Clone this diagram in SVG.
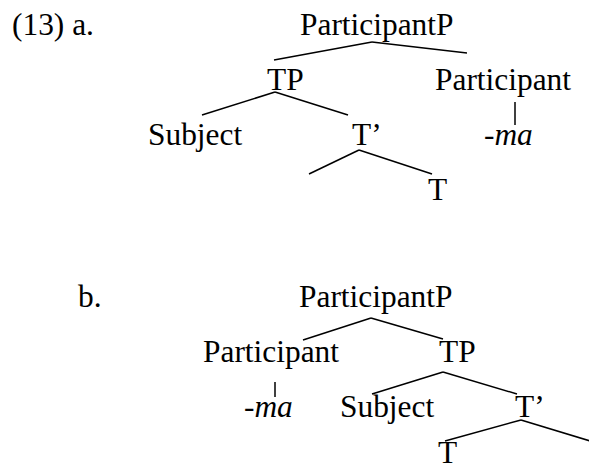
<svg xmlns="http://www.w3.org/2000/svg" width="589" height="469" viewBox="0 0 589 469">
<style>
text{font-family:"Liberation Serif","Times New Roman",serif;font-size:31.4px;fill:#000}
.i{font-style:italic}
#edges line{stroke:#000;stroke-width:1.5;stroke-linecap:butt}
</style>
<rect width="589" height="469" fill="#fff"/>
<g id="labels">
<text x="12" y="35">(13) a.</text>
<text x="78" y="307">b.</text>
</g>
<g id="a-ParticipantP"><text x="300" y="35">ParticipantP</text></g>
<g id="a-TP"><text x="267" y="90">TP</text></g>
<g id="a-Participant"><text x="435" y="90">Participant</text></g>
<g id="a-Subject"><text x="148" y="145">Subject</text></g>
<g id="a-Tbar"><text x="352" y="145">T’</text></g>
<g id="a-ma"><text class="i" x="484" y="145">-ma</text></g>
<g id="a-T"><text x="428" y="200">T</text></g>
<g id="b-ParticipantP"><text x="299" y="307">ParticipantP</text></g>
<g id="b-Participant"><text x="203" y="362">Participant</text></g>
<g id="b-TP"><text x="439" y="362">TP</text></g>
<g id="b-ma"><text class="i" x="244" y="417">-ma</text></g>
<g id="b-Subject"><text x="340" y="417">Subject</text></g>
<g id="b-Tbar"><text x="515" y="417">T’</text></g>
<g id="b-T"><text x="438" y="463">T</text></g>
<g id="edges">
<line x1="372" y1="42" x2="274" y2="60"/>
<line x1="372" y1="42" x2="467" y2="53"/>
<line x1="275" y1="92" x2="202" y2="115"/>
<line x1="275" y1="92" x2="348" y2="115"/>
<line x1="515" y1="102" x2="515" y2="125"/>
<line x1="359" y1="150" x2="309" y2="174"/>
<line x1="359" y1="150" x2="432" y2="174"/>
<line x1="371" y1="318" x2="303" y2="340"/>
<line x1="371" y1="318" x2="443" y2="339"/>
<line x1="443" y1="372" x2="372" y2="394"/>
<line x1="443" y1="372" x2="517" y2="394"/>
<line x1="275" y1="382" x2="275" y2="397"/>
<line x1="521" y1="420" x2="445" y2="441"/>
<line x1="521" y1="420" x2="600" y2="444"/>
</g>
</svg>
